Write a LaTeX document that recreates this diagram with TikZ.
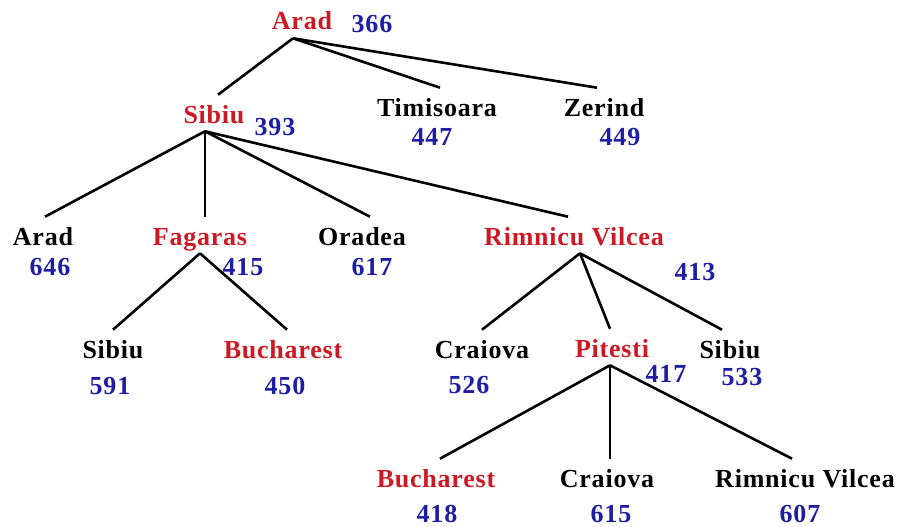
\documentclass[tikz,border=0pt]{standalone}
\usepackage{fontspec}
\setmainfont[LetterSpace=3]{Liberation Serif}
\definecolor{cityred}{RGB}{205,25,35}
\definecolor{costblue}{RGB}{30,30,165}

\begin{document}
\begin{tikzpicture}[x=1pt,y=-1pt,line width=2.6pt]
\tikzstyle{city}=[anchor=base,inner sep=0pt,text height=27pt,text depth=7pt,font=\fontsize{26}{30}\selectfont\bfseries,black]
\tikzstyle{open}=[city,text=cityred]
\tikzstyle{cost}=[anchor=base,inner sep=0pt,font=\fontsize{26}{30}\selectfont\bfseries,text=costblue]
\tikzstyle{thinedge}=[line width=1.3pt]
\useasboundingbox (0,0) rectangle (897,527);

\node[open](A) at (302,30) {Arad};
\node[cost](hA) at (372,33) {366};

\node[open](S) at (214,123) {Sibiu};
\node[cost](hS) at (275,135) {393};
\node[city](T) at (437,116) {Timisoara};
\node[cost](hT) at (432,145) {447};
\node[city](Z) at (604,116) {Zerind};
\node[cost](hZ) at (620,145) {449};

\node[city](A2) at (43,245) {Arad};
\node[cost](hA2) at (50,275) {646};
\node[open](F) at (200,245) {Fagaras};
\node[cost](hF) at (243,275) {415};
\node[city](O) at (362,245) {Oradea};
\node[cost](hO) at (372,275) {617};
\node[open](R) at (574,245) {Rimnicu Vilcea};
\node[cost](hR) at (695,280) {413};

\node[city](S2) at (113,358) {Sibiu};
\node[cost](hS2) at (110,394) {591};
\node[open](B) at (283,358) {Bucharest};
\node[cost](hB) at (285,394) {450};
\node[city](C) at (482,358) {Craiova};
\node[cost](hC) at (469,393) {526};
\node[open](P) at (612,357) {Pitesti};
\node[cost](hP) at (666,382) {417};
\node[city](S3) at (730,358) {Sibiu};
\node[cost](hS3) at (742,385) {533};

\node[open](B2) at (436,487) {Bucharest};
\node[cost](hB2) at (437,522) {418};
\node[city](C2) at (607,487) {Craiova};
\node[cost](hC2) at (611,522) {615};
\node[city](R2) at (805,487) {Rimnicu Vilcea};
\node[cost](hR2) at (800,522) {607};

% expansion of Arad
\draw ([xshift=-9pt]A.south) -- ([xshift=4pt]S.north);
\draw ([xshift=-9pt]A.south) -- ([xshift=3pt]T.north);
\draw ([xshift=-9pt]A.south) -- ([xshift=-7pt]Z.north);
% expansion of Sibiu
\draw ([xshift=-9pt]S.south) -- ([xshift=2pt]A2.north);
\draw[thinedge] ([xshift=-9pt]S.south) -- ([xshift=5pt]F.north);
\draw ([xshift=-9pt]S.south) -- ([xshift=8pt]O.north);
\draw ([xshift=-9pt]S.south) -- ([xshift=-6pt]R.north);
% expansion of Fagaras
\draw (F.south) -- (S2.north);
\draw (F.south) -- ([xshift=4pt]B.north);
% expansion of Rimnicu Vilcea
\draw ([xshift=6pt]R.south) -- (C.north);
\draw ([xshift=6pt]R.south) -- ([xshift=-2pt]P.north);
\draw ([xshift=6pt]R.south) -- ([xshift=-8pt]S3.north);
% expansion of Pitesti
\draw ([xshift=-2pt]P.south) -- ([xshift=4pt]B2.north);
\draw[thinedge] ([xshift=-2pt]P.south) -- ([xshift=3pt]C2.north);
\draw ([xshift=-2pt]P.south) -- ([xshift=-13pt]R2.north);
\end{tikzpicture}
\end{document}
